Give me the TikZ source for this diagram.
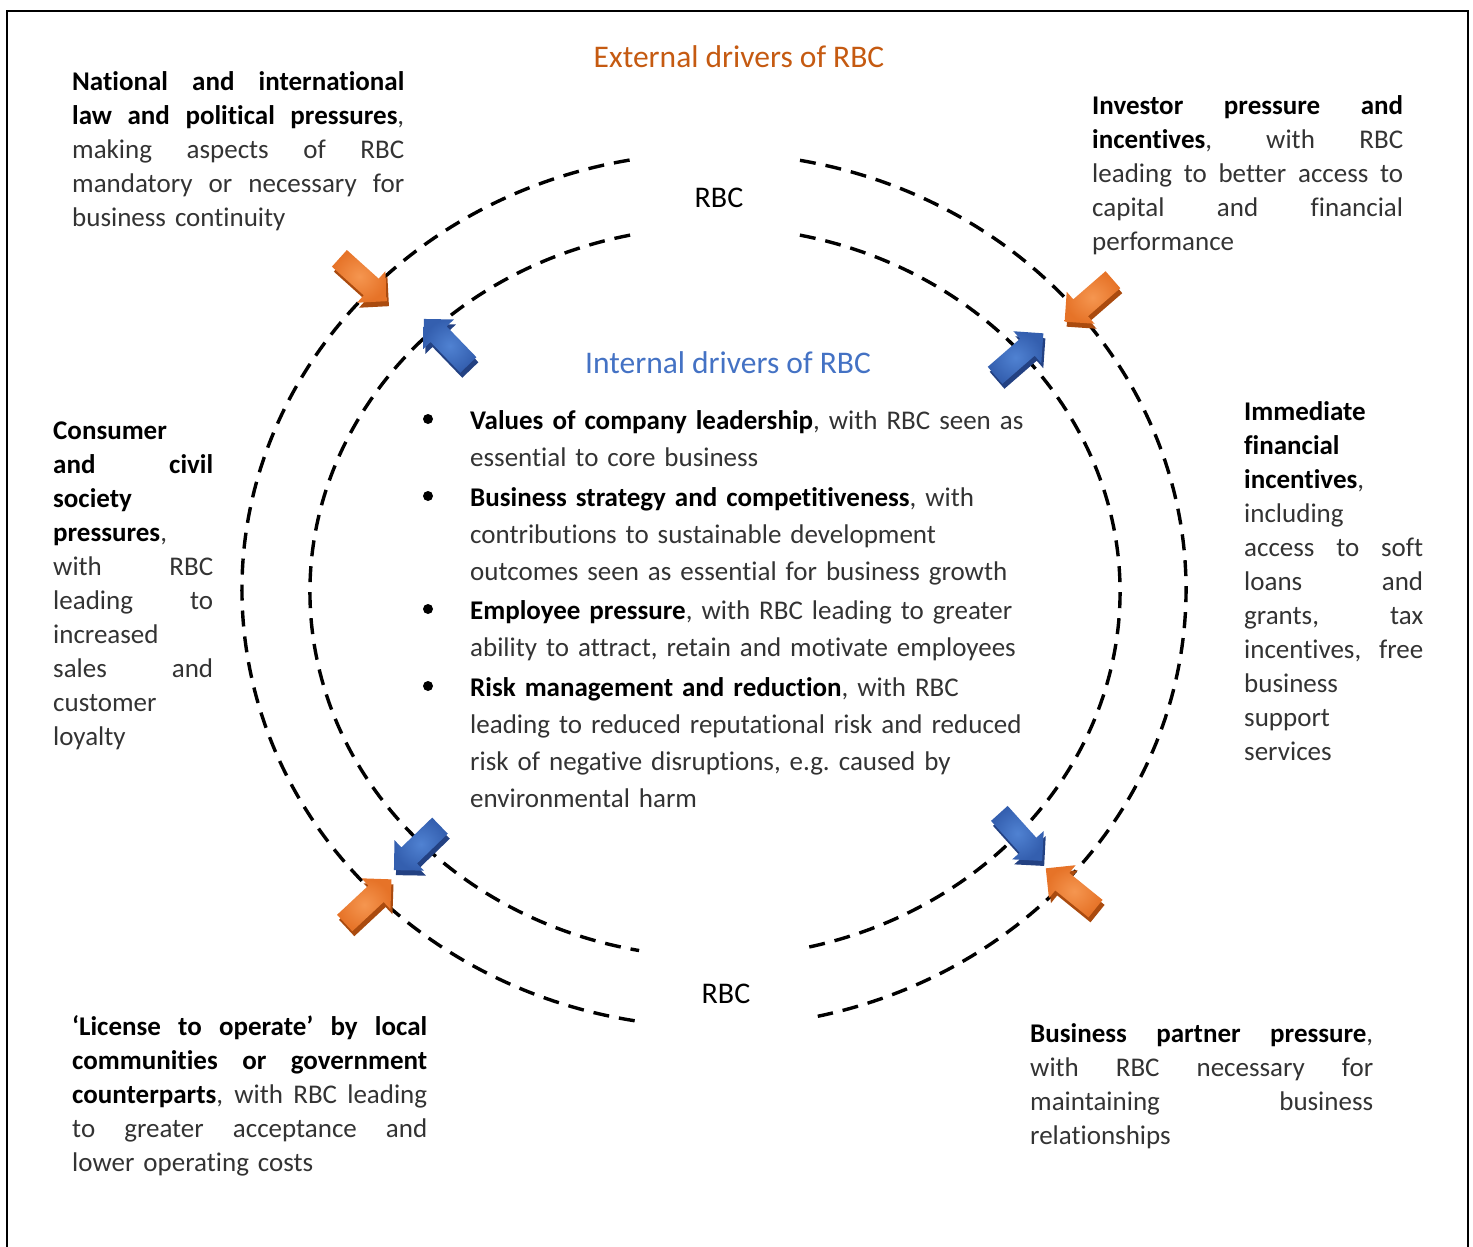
\documentclass[tikz,border=0pt]{standalone}
\usepackage{fontspec}
\setmainfont{Carlito}[Ligatures={TeX,NoCommon}, Contextuals=NoAlternate]
\usepackage{tikz}
\usetikzlibrary{shapes.arrows}

\definecolor{extorange}{RGB}{230,115,40}
\definecolor{extlight}{RGB}{245,150,80}
\definecolor{extdark}{RGB}{170,75,15}
\definecolor{exthead}{RGB}{197,90,17}
\definecolor{intblue}{RGB}{52,95,175}
\definecolor{intlight}{RGB}{80,130,210}
\definecolor{intdark}{RGB}{35,65,130}
\definecolor{inthead}{RGB}{68,114,196}

\newcommand{\jline}[1]{\makebox[\hsize][s]{\spaceskip=0pt\xspaceskip=0pt #1}}
\newcommand{\hl}[1]{\textcolor{black}{\textbf{#1}}}

\begin{document}
\begin{tikzpicture}[x=1pt, y=-1pt,
  ringline/.style={line width=3.4pt, dash pattern=on 16pt off 10pt},
  sidetext/.style={anchor=base west, inner sep=0pt, align=left, text=black!80,
    font=\fontsize{27}{34}\selectfont},
  itemtext/.style={anchor=base west, inner sep=0pt, align=left, text width=640pt,
    text=black!80, font=\fontsize{27}{37}\selectfont},
  dotmark/.style={circle, fill=black, inner sep=0pt, minimum size=10pt},
  blockarrow/.style={single arrow, inner xsep=0pt, inner ysep=11pt, minimum width=0pt,
    minimum height=64pt, single arrow head extend=10pt},
  extarrow/.style={blockarrow, inner color=extlight, outer color=extorange},
  intarrow/.style={blockarrow, inner color=intlight, outer color=intblue},
  extshade/.style={blockarrow, fill=extdark},
  intshade/.style={blockarrow, fill=intdark}]
\useasboundingbox (0,0) rectangle (1473,1247);
%\draw[step=50,gray,very thin] (0,0) grid (1473,1247);
\draw[line width=2pt] (7,1260) -- (7,11) -- (1468,11) -- (1468,1260);%%

% outer ring
\draw[ringline] (714,590) ++(-100.3:472 and 437) arc[start angle=-100.3, end angle=-260.5, x radius=472, y radius=437];%%
\draw[ringline] (714,590) ++(-79.5:472 and 437) arc[start angle=-79.5, end angle=77.3, x radius=472, y radius=437];%%
% inner ring
\draw[ringline] (715,592) ++(-102.1:405 and 365) arc[start angle=-102.1, end angle=-259.2, x radius=405, y radius=365];%%
\draw[ringline] (715,592) ++(-77.9:405 and 365) arc[start angle=-77.9, end angle=77.9, x radius=405, y radius=365];%%

\node[anchor=base, text=exthead, font=\fontsize{31.5}{38}\selectfont] (exthead) at (739,68) {External drivers of RBC};%%
\node[anchor=base, text=inthead, font=\fontsize{31.5}{38}\selectfont] (inthead) at (728,373) {Internal drivers of RBC};%%
\node[anchor=base, font=\fontsize{30}{34}\selectfont] (rbctop) at (719,207) {RBC};%%
\node[anchor=base, font=\fontsize{30}{34}\selectfont] (rbcbot) at (726,1003) {RBC};%%

% external arrows
\node[extshade, rotate=-42] (o1s) at (361,281) {};%%
\node[extarrow, rotate=-42] (o1) at (359,276) {};%%
\node[extshade, rotate=-139] (o2s) at (1095,302) {};%%
\node[extarrow, rotate=-139] (o2) at (1093,297) {};%%
\node[extshade, rotate=43] (o3s) at (366,910) {};%%
\node[extarrow, rotate=43] (o3) at (364,905) {};%%
\node[extshade, rotate=141] (o4s) at (1077,897) {};%%
\node[extarrow, rotate=141] (o4) at (1075,892) {};%%
% internal arrows
\node[intshade, rotate=134] (b1s) at (452,351) {};%%
\node[intarrow, rotate=134] (b1) at (450,346) {};%%
\node[intshade, rotate=41] (b2s) at (1017,363) {};%%
\node[intarrow, rotate=41] (b2) at (1015,358) {};%%
\node[intshade, rotate=-136] (b3s) at (423,849) {};%%
\node[intarrow, rotate=-136] (b3) at (421,844) {};%%
\node[intshade, rotate=-48] (b4s) at (1019,838) {};%%
\node[intarrow, rotate=-48] (b4) at (1017,833) {};%%

% external drivers
\node[sidetext, text width=332pt] (natlaw) at (72,91) {%
\jline{\hl{National and international}}\\
\jline{\hl{law and political pressures},}\\
\jline{making aspects of RBC}\\
\jline{mandatory or necessary for}\\
business continuity};%%
\node[sidetext, text width=311pt] (investor) at (1092,114) {%
\jline{\hl{Investor pressure and}}\\
\jline{\hl{incentives}, with RBC}\\
\jline{leading to better access to}\\
\jline{capital and financial}\\
performance};%%
\node[sidetext, text width=160pt] (consumer) at (53,439) {%
\hl{Consumer}\\
\jline{\hl{and civil}}\\
\hl{society}\\
\hl{pressures},\\
\jline{with RBC}\\
\jline{leading to}\\
increased\\
\jline{sales and}\\
customer\\
loyalty};%%
\node[sidetext, text width=179pt] (financial) at (1244,420) {%
\hl{Immediate}\\
\hl{financial}\\
\hl{incentives},\\
including\\
\jline{access to soft}\\
\jline{loans and}\\
\jline{grants, tax}\\
\jline{incentives, free}\\
business\\
support\\
services};%%
\node[sidetext, text width=355pt] (license) at (72,1035) {%
\jline{\hl{`License to operate' by local}}\\
\jline{\hl{communities or government}}\\
\jline{\hl{counterparts}, with RBC leading}\\
\jline{to greater acceptance and}\\
lower operating costs};%%
\node[sidetext, text width=343pt] (partner) at (1030,1042) {%
\jline{\hl{Business partner pressure},}\\
\jline{with RBC necessary for}\\
\jline{maintaining business}\\
relationships};%%

% internal drivers
\node[dotmark] (d1) at (428,419) {};%%
\node[itemtext] (values) at (470,429) {\hl{Values of company leadership}, with RBC seen as\\
essential to core business};%%
\node[dotmark] (d2) at (428,496) {};%%
\node[itemtext] (strategy) at (470,506) {\hl{Business strategy and competitiveness}, with\\
contributions to sustainable development\\
outcomes seen as essential for business growth};%%
\node[dotmark] (d3) at (428,609) {};%%
\node[itemtext] (employee) at (470,619) {\hl{Employee pressure}, with RBC leading to greater\\
ability to attract, retain and motivate employees};%%
\node[dotmark] (d4) at (428,686) {};%%
\node[itemtext] (risk) at (470,696) {\hl{Risk management and reduction}, with RBC\\
leading to reduced reputational risk and reduced\\
risk of negative disruptions, e.g.\ caused by\\
environmental harm};%%
\end{tikzpicture}
\end{document}
